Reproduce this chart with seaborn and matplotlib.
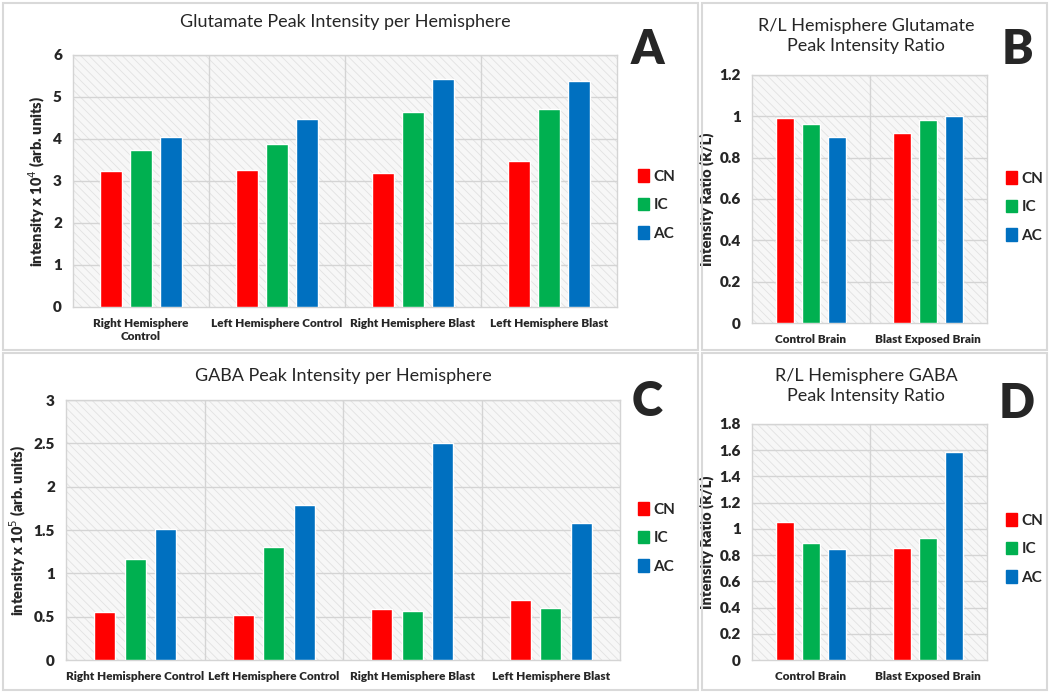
import matplotlib.pyplot as plt
import matplotlib.patches as mpatches
import numpy as np
import pandas as pd
import seaborn as sns

regions = ["CN", "IC", "AC"]
colors = ["#ff0000", "#00b050", "#0070c0"]

hemi_labels = ["Right Hemisphere\nControl", "Left Hemisphere Control",
               "Right Hemisphere Blast", "Left Hemisphere Blast"]
hemi_labels_c = ["Right Hemisphere Control", "Left Hemisphere Control",
                 "Right Hemisphere Blast", "Left Hemisphere Blast"]
brain_labels = ["Control Brain", "Blast Exposed Brain"]

glu_cn = [3.25, 3.27, 3.20, 3.48]
glu_ic = [3.75, 3.87, 4.65, 4.72]
glu_ac = [4.05, 4.48, 5.42, 5.38]

glu_ratio_cn = [0.99, 0.92]
glu_ratio_ic = [0.965, 0.98]
glu_ratio_ac = [0.90, 1.00]

gaba_cn = [0.55, 0.52, 0.59, 0.69]
gaba_ic = [1.16, 1.30, 0.56, 0.60]
gaba_ac = [1.51, 1.79, 2.50, 1.58]

gaba_ratio_cn = [1.05, 0.855]
gaba_ratio_ic = [0.89, 0.93]
gaba_ratio_ac = [0.845, 1.59]

sns.set_style("white")
plt.rcParams['font.family'] = ['Lato', 'DejaVu Sans']
plt.rcParams['hatch.linewidth'] = 0.6

FW, FH = 1050, 694
W8 = "heavy"
fig = plt.figure(figsize=(10.5, 6.94), dpi=100)


def px(x0, y0, x1, y1):
	return [x0 / FW, 1 - y1 / FH, (x1 - x0) / FW, (y1 - y0) / FH]


def long_df(cats, cn, ic, ac):
	rows = []
	for vals, r in zip([cn, ic, ac], regions):
		for c, v in zip(cats, vals):
			rows.append({"cat": c, "region": r, "value": v})
	return pd.DataFrame(rows)


def panel(box, cats, cn, ic, ac, ymax, ystep, ylabel, gap, leg_xy):
	ax = fig.add_axes(px(*box))
	df = long_df(cats, cn, ic, ac)
	ax.add_patch(mpatches.Rectangle((-0.5, 0), len(cats), ymax, facecolor="#f7f7f7",
		edgecolor="#e2e2e2", hatch="\\\\\\\\", linewidth=0, zorder=0))
	sns.barplot(data=df, x="cat", y="value", hue="region", palette=colors,
		width=0.66, gap=gap, ax=ax, zorder=3, saturation=1)
	ax.set_xlim(-0.5, len(cats) - 0.5)
	ax.set_ylim(0, ymax)
	ticks = np.round(np.arange(0, ymax + ystep / 2, ystep), 2)
	ax.set_yticks(ticks)
	ax.set_yticklabels([f"{t:g}" for t in ticks], fontweight=W8, fontsize=11)
	for t in ticks[1:]:
		ax.axhline(t, color="#d4d4d4", lw=1, zorder=1)
	for i in range(1, len(cats)):
		ax.axvline(i - 0.5, color="#d4d4d4", lw=1, zorder=1)
	ax.tick_params(axis="x", length=0, pad=8)
	ax.tick_params(axis="y", length=0, pad=8)
	for lbl in ax.get_xticklabels():
		lbl.set_fontweight(W8)
		lbl.set_fontsize(8.5)
	ax.set_xlabel("")
	ax.set_ylabel(ylabel, fontweight=W8, fontsize=10.5)
	for s in ax.spines.values():
		s.set_color("#d4d4d4")
		s.set_linewidth(1)
	handles = [mpatches.Patch(color=c, label=r) for c, r in zip(colors, regions)]
	ax.get_legend().remove()
	fig.legend(handles=handles, loc="center left", bbox_to_anchor=(leg_xy[0] / FW, 1 - leg_xy[1] / FH),
		frameon=False, handlelength=0.7, handleheight=0.9, handletextpad=0.3,
		labelspacing=0.9, borderaxespad=0, borderpad=0, prop={"weight": "bold", "size": 11})
	return ax


# panel frames
for b in [(3, 3, 698, 350), (702, 3, 1047, 350), (3, 353, 698, 690), (702, 353, 1047, 690)]:
	fig.add_artist(mpatches.Rectangle((b[0] / FW, 1 - b[3] / FH), (b[2] - b[0]) / FW,
		(b[3] - b[1]) / FH, fill=False, edgecolor="#d9d9d9", lw=1.5))

panel((73, 55, 617, 307), hemi_labels, glu_cn, glu_ic, glu_ac, 6, 1,
	"intensity x 10$^4$ (arb. units)", 0.27, (638, 205))
panel((752, 75, 987, 323), brain_labels, glu_ratio_cn, glu_ratio_ic, glu_ratio_ac, 1.2, 0.2,
	"Intensity Ratio (R/L)", 0.3, (1006, 207))
panel((66, 400, 620, 660), hemi_labels_c, gaba_cn, gaba_ic, gaba_ac, 3, 0.5,
	"intensity x 10$^5$ (arb. units)", 0.3, (638, 538))
panel((752, 424, 987, 660), brain_labels, gaba_ratio_cn, gaba_ratio_ic, gaba_ratio_ac, 1.8, 0.2,
	"Intensity Ratio (R/L)", 0.3, (1006, 549))

titles = [
	(345, 22, "Glutamate Peak Intensity per Hemisphere"),
	(866, 36, "R/L Hemisphere Glutamate\nPeak Intensity Ratio"),
	(343, 376, "GABA Peak Intensity per Hemisphere"),
	(866, 386, "R/L Hemisphere GABA\nPeak Intensity Ratio"),
]
for x, y, t in titles:
	fig.text(x / FW, 1 - y / FH, t, ha="center", va="center", fontsize=13, linespacing=1.3)

letters = [(647, 50, "A"), (1017, 50, "B"), (647, 402, "C"), (1017, 404, "D")]
for x, y, t in letters:
	fig.text(x / FW, 1 - y / FH, t, ha="center", va="center", fontsize=34, fontweight="heavy")

plt.savefig("out.png", dpi=100)
